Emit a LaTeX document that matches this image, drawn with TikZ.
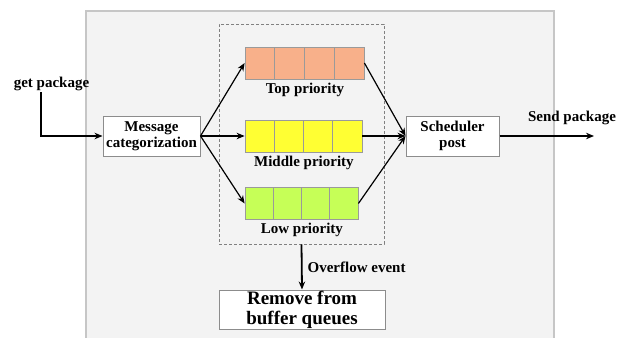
\documentclass[tikz,border=0pt]{standalone}
\usepackage{fontspec}
\setmainfont{Liberation Serif}
\usetikzlibrary{arrows.meta,positioning,calc}
\definecolor{framefill}{HTML}{F3F3F3}
\definecolor{frameline}{HTML}{C6C6C6}
\definecolor{boxgray}{HTML}{8C8C8C}
\definecolor{cellgray}{HTML}{9A9A9A}
\definecolor{topq}{HTML}{F8B08A}
\definecolor{midq}{HTML}{FFFF33}
\definecolor{lowq}{HTML}{C6FF57}

\begin{document}
\begin{tikzpicture}[x=1pt, y=-1pt,
  box/.style={draw=boxgray, fill=white, line width=1pt, align=center, inner sep=0pt, font=\bfseries\fontsize{15}{16.5}\selectfont},
  cell/.style={draw=cellgray, line width=0.8pt, minimum height=32pt, inner sep=0pt},
  bufbox/.style={draw=gray, dashed, dash pattern=on 3pt off 2pt, line width=0.8pt, inner sep=0pt},
  lbl/.style={font=\bfseries\fontsize{15}{16}\selectfont, inner sep=1pt},
  qarrow/.style={->, line width=1.2pt},
  thickarrow/.style={->, line width=1.8pt},
  >={Stealth[length=8pt,width=6.5pt]}]
  \clip (0,0) rectangle (617,337);
  \draw[fill=framefill, draw=frameline, line width=1.5pt] (86,11) rectangle (554,345);
  \node[bufbox, minimum width=165pt, minimum height=220pt] (buf) at (301.5,134) {};
  % the three queues, four cells each
  \foreach \q/\yy/\col/\w in {top/63/topq/29.75, mid/136/midq/29.25, low/203.5/lowq/28.25}
    \foreach \i in {0,...,3}
      \node[cell, fill=\col, minimum width=\w pt] (\q\i) at ({245+(\i+0.5)*\w}, \yy) {};
  \node[lbl, below=2pt of top1.south east] (toplbl) {Top priority};
  \node[lbl, below=2pt of mid1.south east] (midlbl) {Middle priority};
  \node[lbl, below=2pt of low1.south east] (lowlbl) {Low priority};

  \node[box, minimum width=97pt, minimum height=40pt] (cat) at (151.5,136) {Message\\categorization};
  \node[box, minimum width=93pt, minimum height=40pt] (sch) at (452.5,136) {Scheduler\\post};
  \node[box, font=\bfseries\fontsize{19}{20}\selectfont, minimum width=166pt, minimum height=39pt] (rem) at (302,309.5) {Remove from\\buffer queues};

  \node[lbl] (get) at (51.5,84) {get package};
  \node[lbl] (send) at (572,118) {Send package};
  \coordinate (out) at (594,136);

  \draw[thickarrow] ([xshift=-10.5pt]get.south) |- (cat.west);
  \draw[thickarrow] (sch.east) -- (out);
  \foreach \q in {top,mid,low} {
    \draw[qarrow] (cat.east) -- (\q0.west);
    \draw[qarrow] (\q3.east) -- (sch.west);
  }
  \draw[thickarrow] (buf.south) -- (rem.north) node[midway, right, lbl, xshift=4pt] {Overflow event};
\end{tikzpicture}
\end{document}
